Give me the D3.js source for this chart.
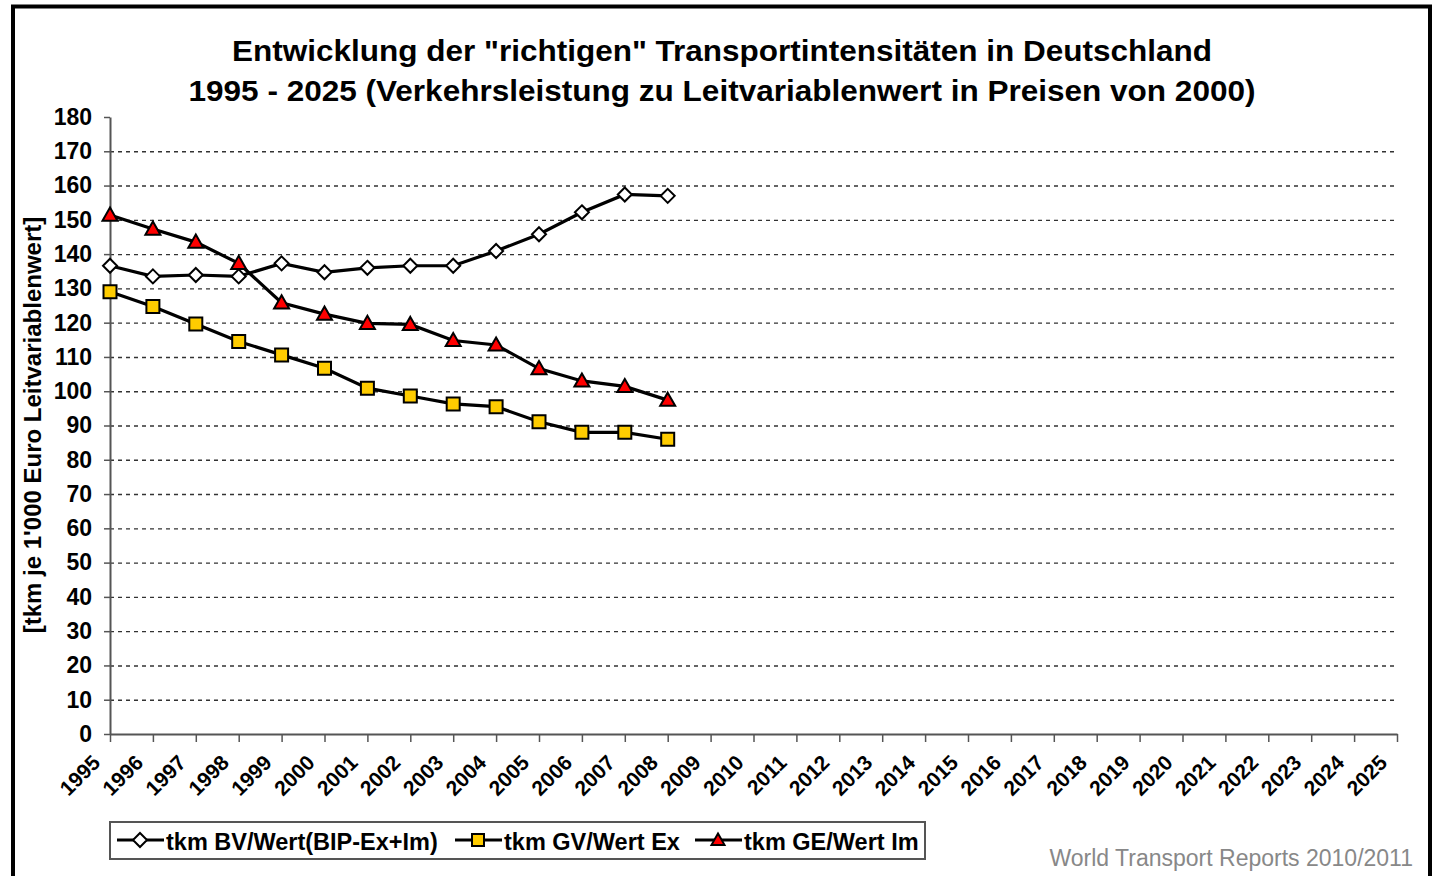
<!DOCTYPE html>
<html>
<head>
<meta charset="utf-8">
<script src="https://cdn.jsdelivr.net/npm/d3@7"></script>
<style>
  body { margin: 0; background: #fff; }
  svg { display: block; font-family: "Liberation Sans", Arial, sans-serif; }
</style>
</head>
<body>
<svg width="1433" height="876"></svg>
<script>
// category axis years (1995 - 2025)
var axisYears = d3.range(1995, 2026);
var dataYears = [1995,1996,1997,1998,1999,2000,2001,2002,2003,2004,2005,2006,2007,2008];

// series values
var bvValues = [136.6,133.5,133.9,133.5,137.3,134.7,136.0,136.6,136.6,140.9,145.8,152.2,157.4,157.0];
var gvValues = [129.0,124.7,119.6,114.5,110.6,106.7,100.9,98.6,96.3,95.5,91.1,88.0,88.0,86.0];
var geValues = [151.4,147.3,143.5,137.3,125.8,122.5,119.8,119.5,114.8,113.5,106.6,103.0,101.4,97.4];

var yTicks = d3.range(0, 181, 10);

var titleLines = ["Entwicklung der \"richtigen\" Transportintensitäten in Deutschland",
                  "1995 - 2025 (Verkehrsleistung zu Leitvariablenwert in Preisen von 2000)"];
var legendLabels = ["tkm BV/Wert(BIP-Ex+Im)", "tkm GV/Wert Ex", "tkm GE/Wert Im"];

var svg = d3.select("svg");

var plotLeft = 110, plotRight = 1397, plotTop = 117, plotBottom = 734;

var xScale = d3.scalePoint()
  .domain(axisYears)
  .range([plotLeft, plotRight]);

var yScale = d3.scaleLinear()
  .domain([0, 180])
  .range([plotBottom, plotTop]);

// outer frame
svg.append("rect")
  .attr("x", 13).attr("y", 6.5)
  .attr("width", 1417).attr("height", 900)
  .attr("fill", "none")
  .attr("stroke", "#000")
  .attr("stroke-width", 4);

// title (the original is a bit stretched sideways)
var titleWidths = [980, 1067];
svg.append("g").selectAll("text")
  .data(titleLines)
  .enter()
  .append("text")
    .attr("x", 722)
    .attr("y", (d, i) => 61 + i * 40)
    .attr("text-anchor", "middle")
    .attr("textLength", (d, i) => titleWidths[i])
    .attr("lengthAdjust", "spacingAndGlyphs")
    .style("font-size", "29px")
    .style("font-weight", "bold")
    .text(d => d);

// dashed gridlines
var grid = svg.append("g")
  .attr("transform", "translate(" + plotLeft + ",0)")
  .call(d3.axisLeft(yScale)
    .tickValues(yTicks.filter(d => d > 0 && d < 180))
    .tickSize(-(plotRight - plotLeft))
    .tickFormat(""));
grid.select(".domain").remove();
grid.selectAll("line")
  .attr("stroke", "#333")
  .attr("stroke-width", 1.4)
  .attr("stroke-dasharray", "4,4");

// y axis
var yAxisG = svg.append("g")
  .attr("transform", "translate(" + plotLeft + ",0)")
  .call(d3.axisLeft(yScale).tickValues(yTicks).tickSize(6).tickSizeOuter(0).tickPadding(12));
yAxisG.select(".domain").attr("stroke", "#555").attr("stroke-width", 2);
yAxisG.selectAll("line").attr("stroke", "#555").attr("stroke-width", 1.5);
yAxisG.selectAll("text")
  .attr("fill", "#000")
  .style("font-size", "23px")
  .style("font-weight", "bold")
  .style("font-family", "'Liberation Sans', Arial, sans-serif");

// x axis
var xAxisG = svg.append("g")
  .attr("transform", "translate(0," + plotBottom + ")")
  .call(d3.axisBottom(xScale).tickSize(8).tickSizeOuter(0));
xAxisG.select(".domain").attr("stroke", "#555").attr("stroke-width", 2);
xAxisG.selectAll("line").attr("stroke", "#555").attr("stroke-width", 1.5);
xAxisG.selectAll("text")
  .attr("x", 0).attr("y", 0).attr("dy", 0)
  .attr("transform", "translate(-9,30) rotate(-45)")
  .attr("text-anchor", "end")
  .attr("fill", "#000")
  .style("font-size", "21px")
  .style("font-weight", "bold")
  .style("font-family", "'Liberation Sans', Arial, sans-serif");

// y axis title
svg.append("text")
  .attr("transform", "translate(41,425) rotate(-90)")
  .attr("text-anchor", "middle")
  .style("font-size", "24px")
  .style("font-weight", "bold")
  .text("[tkm je 1'000 Euro Leitvariablenwert]");

// marker shapes
function diamond(r) { return "M0," + (-r) + "L" + r + ",0L0," + r + "L" + (-r) + ",0Z"; }
function square(r) { return "M" + (-r) + "," + (-r) + "h" + (2 * r) + "v" + (2 * r) + "h" + (-2 * r) + "Z"; }
function triangle(r) { return "M0," + (-r) + "L" + r + "," + (r * 0.75) + "L" + (-r) + "," + (r * 0.75) + "Z"; }

var series = [
  { values: bvValues, shape: diamond, size: 7, legendSize: 7, fill: "#fff" },
  { values: gvValues, shape: square, size: 6.5, legendSize: 6, fill: "#ffcc00" },
  { values: geValues, shape: triangle, size: 7.5, legendSize: 6.5, fill: "#ff0000" }
];

var line = d3.line()
  .x((d, i) => xScale(dataYears[i]))
  .y(d => yScale(d));

series.forEach(function(s) {
  svg.append("path")
    .datum(s.values)
    .attr("d", line)
    .attr("fill", "none")
    .attr("stroke", "#000")
    .attr("stroke-width", 3.2);
});

series.forEach(function(s) {
  svg.append("g").selectAll("path")
    .data(s.values)
    .enter()
    .append("path")
      .attr("transform", (d, i) => "translate(" + xScale(dataYears[i]) + "," + yScale(d) + ")")
      .attr("d", s.shape(s.size))
      .attr("fill", s.fill)
      .attr("stroke", "#000")
      .attr("stroke-width", 2);
});

// legend
var legend = svg.append("g");
legend.append("rect")
  .attr("x", 110).attr("y", 822)
  .attr("width", 815).attr("height", 37)
  .attr("fill", "#fff")
  .attr("stroke", "#555")
  .attr("stroke-width", 2);

var legendX = [117, 455, 695];
series.forEach(function(s, i) {
  var g = legend.append("g").attr("transform", "translate(" + legendX[i] + ",840)");
  g.append("line")
    .attr("x1", 0).attr("x2", 47)
    .attr("stroke", "#000").attr("stroke-width", 3);
  g.append("path")
    .attr("transform", "translate(23,0)")
    .attr("d", s.shape(s.legendSize))
    .attr("fill", s.fill)
    .attr("stroke", "#000")
    .attr("stroke-width", 2);
  g.append("text")
    .attr("x", 49)
    .attr("y", 10)
    .style("font-size", "23.5px")
    .style("font-weight", "bold")
    .text(legendLabels[i]);
});

// source note
svg.append("text")
  .attr("x", 1413)
  .attr("y", 866)
  .attr("text-anchor", "end")
  .attr("fill", "#888")
  .style("font-size", "23px")
  .text("World Transport Reports 2010/2011");
</script>
</body>
</html>
